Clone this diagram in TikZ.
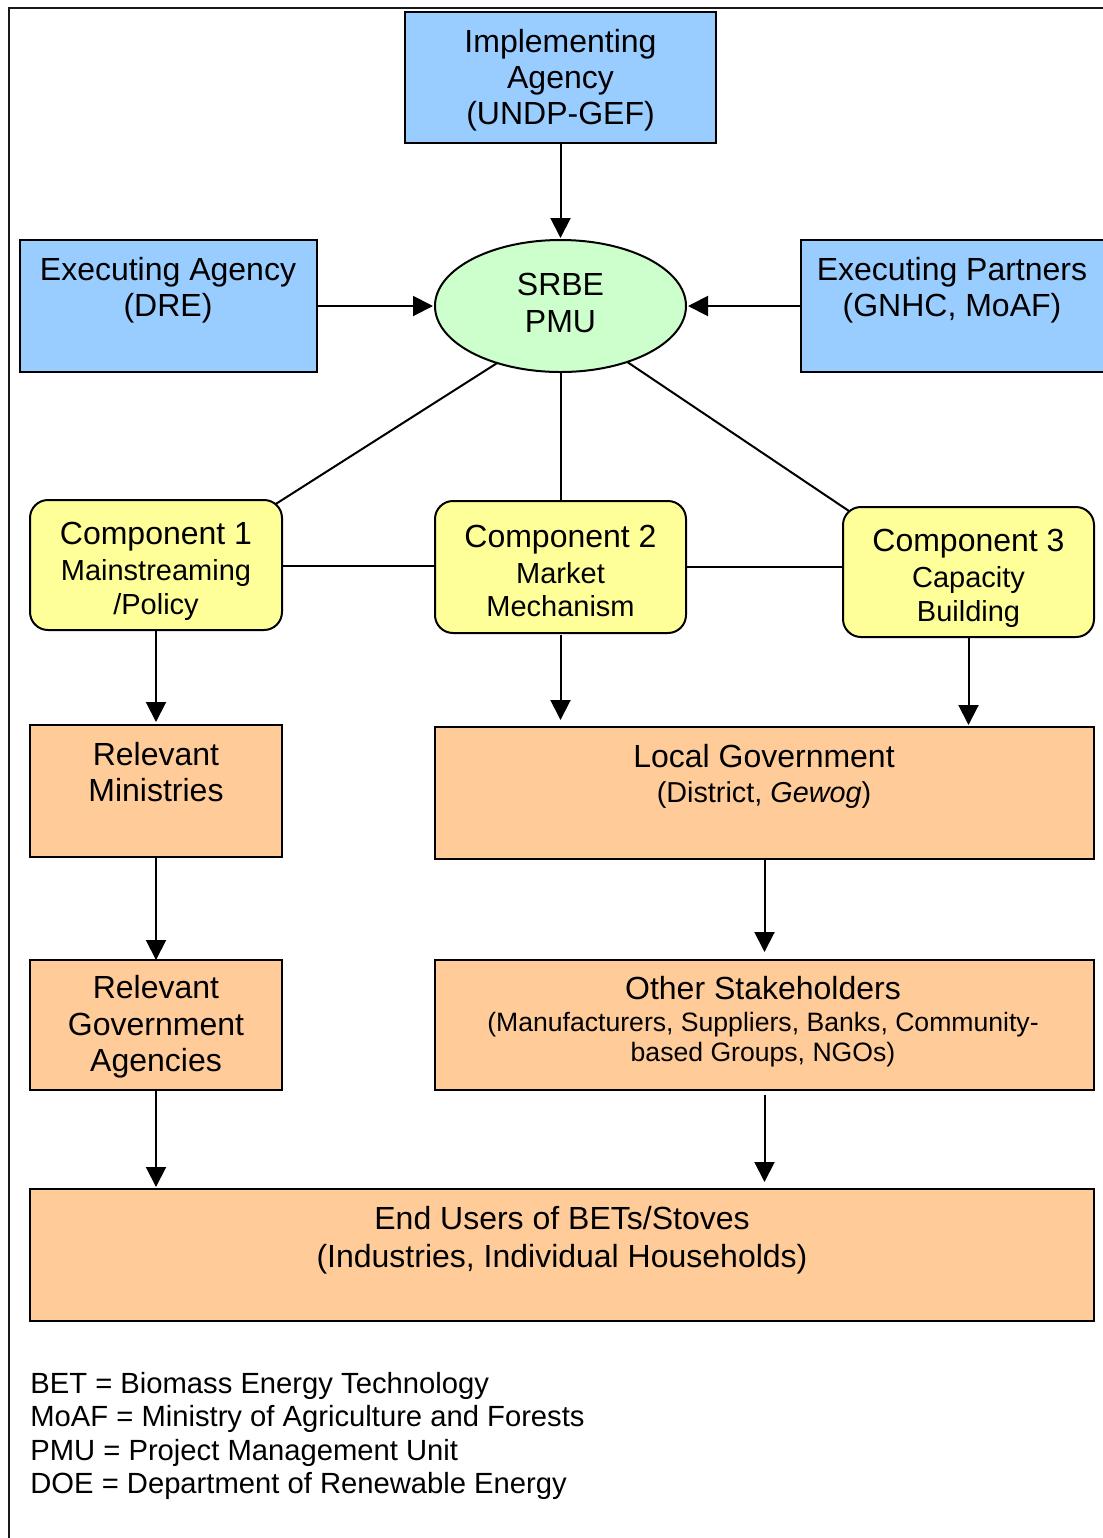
\documentclass[tikz,border=0pt]{standalone}
\usepackage{fontspec}
\setmainfont{Liberation Sans}
\usetikzlibrary{shapes.geometric,arrows.meta,backgrounds}

\definecolor{agencyblue}{HTML}{99CCFF}
\definecolor{pmugreen}{HTML}{CCFFCC}
\definecolor{compyellow}{HTML}{FFFF99}
\definecolor{actororange}{HTML}{FFCC99}

\begin{document}
\begin{tikzpicture}[x=0.5pt,y=-0.5pt,
  box/.style={draw=black, line width=1pt, inner sep=0pt, outer sep=0pt, rectangle},
  agency/.style={box, fill=agencyblue},
  comp/.style={box, fill=compyellow, rounded corners=9pt},
  actor/.style={box, fill=actororange},
  lbl/.style={align=center, inner sep=0pt, font=\fontsize{16}{18}\selectfont},
  complbl/.style={align=center, inner sep=0pt, font=\fontsize{14.5}{16.8}\selectfont},
  link/.style={line width=1pt},
  flow/.style={line width=1pt, -{Triangle[length=10pt,width=10pt]}},
]
\useasboundingbox (0,0) rectangle (1103,1538);

% outer frame, open towards the right and the bottom
\draw[line width=1.3pt, black!90] (9,1560) -- (9,8) -- (1120,8);

% agencies and the project management unit
\node[agency, minimum width=155.5pt, minimum height=65.5pt] (impl) at (560.5,77.5) {};
\node[agency, minimum width=148.5pt, minimum height=66pt] (execA) at (168.5,306) {};
\node[agency, minimum width=152pt, minimum height=66pt] (execP) at (953,306) {};
\node[ellipse, draw=black, line width=1pt, fill=pmugreen, inner sep=0pt, outer sep=0pt,
      minimum width=125.5pt, minimum height=66pt] (pmu) at (560.5,306) {};

% project components
\node[comp, minimum width=126pt, minimum height=65pt] (c1) at (156,565) {};
\node[comp, minimum width=125.5pt, minimum height=66pt] (c2) at (560.5,567) {};
\node[comp, minimum width=125.5pt, minimum height=65pt] (c3) at (968.5,572) {};

% actors
\node[actor, minimum width=126pt, minimum height=66pt] (relmin) at (156,791) {};
\node[actor, minimum width=329.5pt, minimum height=66pt] (local) at (764.5,793) {};
\node[actor, minimum width=126pt, minimum height=65pt] (rga) at (156,1025) {};
\node[actor, minimum width=329.5pt, minimum height=65pt] (other) at (764.5,1025) {};
\node[actor, minimum width=532pt, minimum height=66pt] (enduse) at (562,1255) {};

% labels
\node[lbl] (impl-t) at (560.5,80) {Implementing\\Agency\\(UNDP-GEF)};
\node[lbl] (execA-t) at (168,290) {Executing Agency\\(DRE)};
\node[lbl] (execP-t) at (952,290) {Executing Partners\\(GNHC, MoAF)};
\node[lbl] (pmu-t) at (560.5,303) {SRBE\\[0.5pt]PMU};
\node[complbl] (c1-t) at (156,571.5) {{\fontsize{16}{18}\selectfont Component 1}\\[1.2pt]Mainstreaming\\/Policy};
\node[complbl] (c2-t) at (560.5,571) {{\fontsize{16}{18}\selectfont Component 2}\\[1.2pt]Market\\Mechanism};
\node[complbl] (c3-t) at (968.5,578.5) {{\fontsize{16}{18}\selectfont Component 3}\\[1.2pt]Capacity\\Building};
\node[lbl] (relmin-t) at (156,772.5) {Relevant\\Ministries};
\node[align=center, inner sep=0pt, font=\fontsize{14.4}{17.5}\selectfont] (local-t) at (764,776)
  {{\fontsize{16}{18}\selectfont Local Government}\\(District, \textit{Gewog})};
\node[lbl, font=\fontsize{16}{18.3}\selectfont] (rga-t) at (156,1027) {Relevant\\Government\\Agencies};
\node[align=center, inner sep=0pt, font=\fontsize{13.3}{15}\selectfont] (other-t) at (763,1022)
  {{\fontsize{16}{18}\selectfont Other Stakeholders}\\[1pt](Manufacturers, Suppliers, Banks, Community-\\based Groups, NGOs)};
\node[lbl, font=\fontsize{16}{19}\selectfont] (enduse-t) at (562,1240) {End Users of BETs/Stoves\\(Industries, Individual Households)};

% abbreviations
\node[align=left, anchor=west, inner sep=0pt, font=\fontsize{14.6}{16.7}\selectfont] (legend) at (30,1436)
  {BET = Biomass Energy Technology\\MoAF = Ministry of Agriculture and Forests\\PMU = Project Management Unit\\DOE = Department of Renewable Energy};

% links from the PMU to the components and between components
% (drawn behind the boxes; the corner links run on into the rounded corners)
\begin{scope}[on background layer]
  \draw[link, shorten >=-4pt] (pmu.222) -- (c1.north east);
  \draw[link] (pmu.south) -- (c2.north);
  \draw[link, shorten >=-4pt] (pmu.320) -- (c3.north west);
  \draw[link] (c1.east) ++(0,1) -- (c2.west |- 0,566);
  \draw[link] (c2.east) -- (c2.east -| c3.west);
\end{scope}

% reporting and delivery arrows
\draw[flow, shorten >=1pt] (impl) -- (pmu);
\draw[flow, shorten >=1pt] (execA) -- (pmu);
\draw[flow, shorten >=1pt] (execP) -- (pmu);
\draw[flow, shorten >=1.5pt] (c1) -- (relmin);
\draw[flow, shorten <=1pt, shorten >=3.5pt] (c2.south) -- (c2.south |- local.north);
\draw[flow, shorten >=1pt] (c3.south) -- (c3.south |- local.north);
\draw[flow] (relmin) -- (rga);
\draw[flow, shorten <=0.5pt, shorten >=4pt] (local.south) -- (local.south |- other.north);
\draw[flow, shorten >=1pt] (rga.south) -- (rga.south |- enduse.north);
\draw[flow, shorten <=2.5pt, shorten >=3.5pt] (other.south) -- (other.south |- enduse.north);
\end{tikzpicture}
\end{document}
